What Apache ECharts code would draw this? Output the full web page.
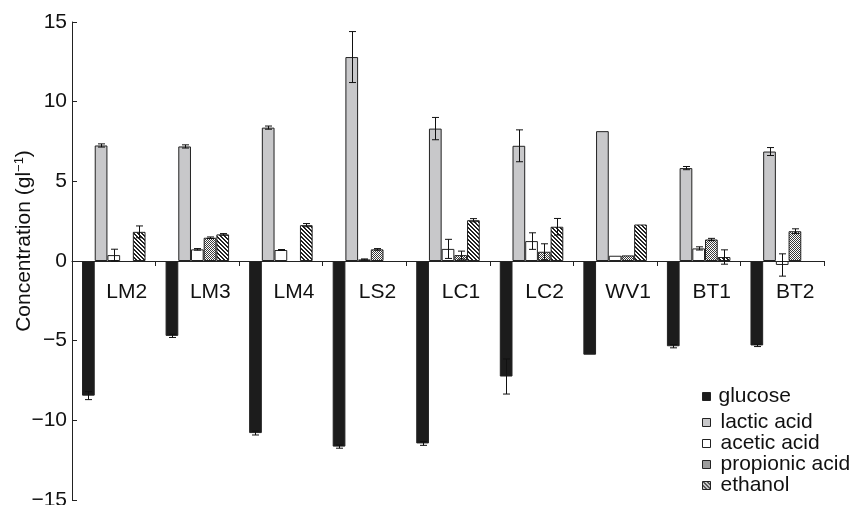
<!DOCTYPE html>
<html><head><meta charset="utf-8">
<script src="https://cdn.jsdelivr.net/npm/echarts@6/dist/echarts.min.js"></script>
<style>html,body{margin:0;padding:0;background:#fff}#c{width:854px;height:505px}</style>
</head><body><div id="c"></div>
<script>
const categories = ['LM2','LM3','LM4','LS2','LC1','LC2','WV1','BT1','BT2'];
const seriesNames = ['glucose','lactic acid','acetic acid','propionic acid','ethanol'];
const glucose = [-8.45, -4.7, -10.8, -11.65, -11.45, -7.25, -5.88, -5.35, -5.3];
const glucoseErr = [0.25, 0.1, 0.12, 0.1, 0.12, 1.1, 0, 0.1, 0.07];
const lactic = [7.25, 7.19, 8.37, 12.8, 8.31, 7.23, 8.15, 5.83, 6.87];
const lacticErr = [0.1, 0.1, 0.1, 1.6, 0.7, 1.0, 0, 0.1, 0.25];
const acetic = [0.37, 0.73, 0.69, 0.1, 0.76, 1.25, 0.33, 0.79, -0.25];
const aceticErr = [0.37, 0.05, 0.03, 0.03, 0.6, 0.52, 0, 0.1, 0.7];
const propionic = [null, 1.46, null, 0.73, 0.37, 0.58, 0.35, 1.35, 1.87];
const propionicErr = [0, 0.05, 0, 0.05, 0.25, 0.5, 0, 0.07, 0.15];
const ethanol = [1.83, 1.67, 2.25, null, 2.56, 2.15, 2.29, 0.25, null];
const ethanolErr = [0.37, 0.05, 0.1, 0, 0.1, 0.52, 0, 0.45, 0];
const yTicks = [-15, -10, -5, 0, 5, 10, 15];

const values = [glucose, lactic, acetic, propionic, ethanol];
const errors = [glucoseErr, lacticErr, aceticErr, propionicErr, ethanolErr];

function makePattern(type) {
  const c = document.createElement('canvas');
  c.width = 4; c.height = 4;
  const ctx = c.getContext('2d');
  ctx.fillStyle = '#fff'; ctx.fillRect(0, 0, 4, 4);
  if (type === 'dots') {
    ctx.fillStyle = '#3a3a3a';
    for (let x = 0; x < 4; x++) for (let y = 0; y < 4; y++) if ((x + y) % 2 === 0) ctx.fillRect(x, y, 1, 1);
  } else {
    ctx.fillStyle = '#222';
    for (let i = 0; i < 4; i++) { ctx.fillRect(i, i, 1, 1); ctx.fillRect((i + 1) % 4, i, 1, 1); }
  }
  return c;
}
const fills = ['#1c1c1c', '#c8c8ca', '#ffffff',
  {image: makePattern('dots'), repeat: 'repeat'},
  {image: makePattern('stripes'), repeat: 'repeat'}];

const GAP = 0.24;
const errData = [];
values.forEach((arr, si) => arr.forEach((v, ci) => {
  const e = errors[si][ci];
  if (v !== null && e > 0) errData.push([ci, v, e, si]);
}));

const font = 'Liberation Sans, Arial, Helvetica, sans-serif';
const FS = 21;
const chart = echarts.init(document.getElementById('c'));
const barSeries = seriesNames.map((name, si) => ({
  name, type: 'bar', data: values[si], xAxisIndex: 0,
  barGap: '0%', barCategoryGap: (GAP * 100) + '%',
  itemStyle: {color: fills[si], borderColor: '#222', borderWidth: 1},
  emphasis: {disabled: true}, animation: false
}));
const errSeries = {
  type: 'custom', data: errData, z: 5, animation: false, xAxisIndex: 0,
  encode: {x: 0, y: 1},
  renderItem: function (params, api) {
    const ci = api.value(0), v = api.value(1), e = api.value(2), si = api.value(3);
    const catW = api.size([1, 0])[0];
    const bw = catW * (1 - GAP) / 5;
    const x = Math.round(api.coord([ci, 0])[0] - catW * (1 - GAP) / 2 + bw * (si + 0.5)) + 0.5;
    const yt = api.coord([ci, v + e])[1];
    const yb = api.coord([ci, v - e])[1];
    const cap = 3.5;
    const st = {stroke: '#111', lineWidth: 1};
    return {type: 'group', children: [
      {type: 'line', shape: {x1: x, y1: yt, x2: x, y2: yb}, style: st},
      {type: 'line', shape: {x1: x - cap, y1: yt, x2: x + cap, y2: yt}, style: st},
      {type: 'line', shape: {x1: x - cap, y1: yb, x2: x + cap, y2: yb}, style: st}
    ]};
  }
};

const legendText = {fontSize: FS, color: '#111', fontFamily: font, lineHeight: 20};
chart.setOption({
  animation: false,
  textStyle: {fontFamily: font},
  grid: {left: 72, right: 30, top: 22, bottom: 5, containLabel: false, outerBoundsMode: 'none'},
  legend: [
    {data: ['glucose'], orient: 'vertical', left: 697, top: 381, itemWidth: 8, itemHeight: 8, icon: 'rect',
     itemGap: 0, textStyle: Object.assign({padding: [0, 0, 0, 3]}, legendText),
     itemStyle: {borderColor: '#222', borderWidth: 1}, selectedMode: false},
    {data: ['lactic acid', 'acetic acid', 'propionic acid', 'ethanol'], orient: 'vertical', left: 697, top: 407,
     itemWidth: 8, itemHeight: 8, itemGap: 0, icon: 'rect',
     textStyle: Object.assign({padding: [0, 0, 0, 5]}, legendText),
     itemStyle: {borderColor: '#222', borderWidth: 1}, selectedMode: false}
  ],
  xAxis: [{
    type: 'category', data: categories,
    axisLine: {onZero: true, lineStyle: {color: '#222', width: 1}},
    axisTick: {show: true, length: 5, lineStyle: {color: '#222'}},
    axisLabel: {show: false},
    splitLine: {show: false}
  }, {
    type: 'category', data: categories, position: 'bottom', offset: -239,
    axisLine: {show: false, onZero: false},
    axisTick: {show: false},
    axisLabel: {fontSize: FS, color: '#111', margin: 21, padding: [0, 0, 0, 26], fontFamily: font},
    splitLine: {show: false}
  }],
  yAxis: {
    type: 'value', min: -15, max: 15, interval: 5,
    name: '{n|Concentration (gl}{s|−1}{n|)}',
    nameLocation: 'middle', nameRotate: 90, nameGap: 37, nameMoveOverlap: false,
    nameTextStyle: {padding: [0, 0, 0, 40], rich: {
      n: {fontSize: FS, color: '#111', fontFamily: font},
      s: {fontSize: 13, color: '#111', fontFamily: font, padding: [0, 0, 9, 0]}
    }},
    axisLine: {show: true, onZero: false, lineStyle: {color: '#222', width: 1}},
    axisTick: {show: true, inside: true, length: 5, lineStyle: {color: '#222'}},
    axisLabel: {fontSize: FS, color: '#111', margin: 5, fontFamily: font,
      formatter: v => yTicks.includes(v) ? String(v).replace('-', '\u2212') : ''},
    splitLine: {show: false}
  },
  series: barSeries.concat([errSeries])
});
</script></body></html>
